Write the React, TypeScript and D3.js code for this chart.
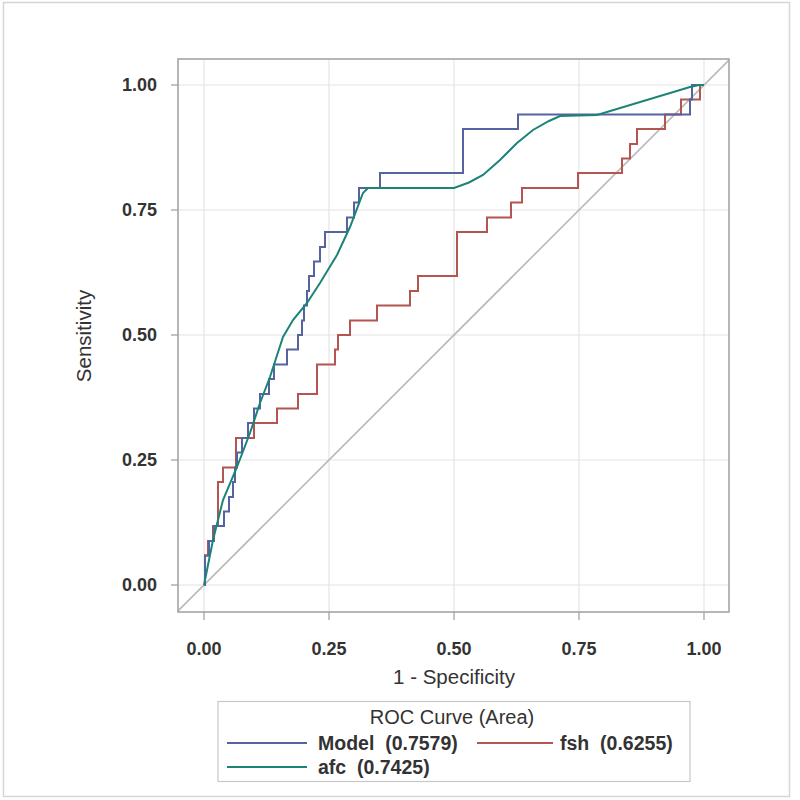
import React from "react";
import * as d3 from "d3";

// Model (logistic) ROC corners: x where the curve rises, new sensitivity
const modelFpr = [0, 0.002, 0.01, 0.02, 0.04, 0.05, 0.058, 0.062, 0.066, 0.076, 0.088, 0.1, 0.112, 0.13, 0.14, 0.166, 0.188, 0.196, 0.2, 0.206, 0.21, 0.22, 0.232, 0.242, 0.286, 0.3, 0.31, 0.352, 0.518, 0.628, 0.972, 0.976, 1];
const modelTpr = [0, 0.059, 0.088, 0.118, 0.147, 0.176, 0.206, 0.235, 0.265, 0.294, 0.324, 0.353, 0.382, 0.412, 0.441, 0.471, 0.5, 0.529, 0.559, 0.588, 0.618, 0.647, 0.676, 0.706, 0.735, 0.765, 0.794, 0.824, 0.912, 0.941, 0.971, 1, 1];

const fshFpr = [0, 0.002, 0.008, 0.018, 0.028, 0.038, 0.064, 0.1, 0.146, 0.188, 0.226, 0.262, 0.268, 0.292, 0.346, 0.412, 0.428, 0.506, 0.566, 0.614, 0.636, 0.748, 0.836, 0.852, 0.866, 0.922, 0.954, 0.992, 1];
const fshTpr = [0, 0.059, 0.088, 0.118, 0.206, 0.235, 0.294, 0.324, 0.353, 0.382, 0.441, 0.471, 0.5, 0.529, 0.559, 0.588, 0.618, 0.706, 0.735, 0.765, 0.794, 0.824, 0.853, 0.882, 0.912, 0.941, 0.971, 1, 1];

const afcFpr = [0, 0.018, 0.038, 0.066, 0.092, 0.112, 0.132, 0.158, 0.178, 0.206, 0.232, 0.266, 0.292, 0.318, 0.328, 0.5, 0.53, 0.558, 0.592, 0.626, 0.658, 0.69, 0.712, 0.786, 0.972, 0.99, 1];
const afcTpr = [0, 0.09, 0.17, 0.236, 0.304, 0.364, 0.416, 0.496, 0.53, 0.564, 0.604, 0.66, 0.716, 0.784, 0.794, 0.794, 0.805, 0.82, 0.85, 0.884, 0.91, 0.928, 0.938, 0.94, 0.996, 1, 1];

const ticks = [0, 0.25, 0.5, 0.75, 1];
const tickLabels = ["0.00", "0.25", "0.50", "0.75", "1.00"];

const legendTitle = "ROC Curve (Area)";
const seriesNames = ["Model", "fsh", "afc"];
const seriesAreas = ["0.7579", "0.6255", "0.7425"];
const seriesColors = ["#5663a1", "#b45552", "#1c8477"];

const FONT = "'Liberation Sans', Arial, sans-serif";

export default function App() {
  const left = 178, right = 729, top = 59, bottom = 612;
  const x = d3.scaleLinear().domain([-0.052, 1.05]).range([left, right]);
  const y = d3.scaleLinear().domain([-0.054, 1.052]).range([bottom, top]);

  const step = d3
    .line<[number, number]>()
    .x((d) => x(d[0]))
    .y((d) => y(d[1]))
    .curve(d3.curveStepAfter);
  const lin = d3
    .line<[number, number]>()
    .x((d) => x(d[0]))
    .y((d) => y(d[1]));

  const model = modelFpr.map((v, i) => [v, modelTpr[i]] as [number, number]);
  const fsh = fshFpr.map((v, i) => [v, fshTpr[i]] as [number, number]);
  const afc = afcFpr.map((v, i) => [v, afcTpr[i]] as [number, number]);

  const textColor = "#333";
  const lx = 227, lx2 = 307;

  return (
    <div style={{ position: "absolute", left: 0, top: 0 }}>
      <svg width={800} height={800} style={{ display: "block" }} fontFamily={FONT}>
        <rect x={0} y={0} width={800} height={800} fill="#fff" />
        <rect x={3.5} y={2.5} width={786} height={794} fill="none" stroke="#d6d6d6" strokeWidth={1.5} />
        <defs>
          <clipPath id="plotclip">
            <rect x={left} y={top} width={right - left} height={bottom - top} />
          </clipPath>
        </defs>
        {/* grid */}
        {ticks.map((t, i) => (
          <g key={"g" + i}>
            <line x1={x(t)} x2={x(t)} y1={top} y2={bottom} stroke="#e4e4e4" strokeWidth={1.2} />
            <line x1={left} x2={right} y1={y(t)} y2={y(t)} stroke="#e4e4e4" strokeWidth={1.2} />
          </g>
        ))}
        <g clipPath="url(#plotclip)">
          <line x1={x(-0.06)} y1={y(-0.06)} x2={x(1.06)} y2={y(1.06)} stroke="#b9b9b9" strokeWidth={1.6} />
          <path d={step(fsh) || ""} fill="none" stroke={seriesColors[1]} strokeWidth={2} />
          <path d={step(model) || ""} fill="none" stroke={seriesColors[0]} strokeWidth={2} />
          <path d={lin(afc) || ""} fill="none" stroke={seriesColors[2]} strokeWidth={2} />
        </g>
        <rect x={left} y={top} width={right - left} height={bottom - top} fill="none" stroke="#a4a4a4" strokeWidth={1.6} />
        {/* y axis */}
        {ticks.map((t, i) => (
          <g key={"y" + i}>
            <line x1={left - 7} x2={left} y1={y(t)} y2={y(t)} stroke="#a4a4a4" strokeWidth={1.3} />
            <text x={left - 21} y={y(t)} dy="0.36em" textAnchor="end" fontSize={18} fontWeight="bold" fill={textColor}>
              {tickLabels[i]}
            </text>
          </g>
        ))}
        {/* x axis */}
        {ticks.map((t, i) => (
          <g key={"x" + i}>
            <line x1={x(t)} x2={x(t)} y1={bottom} y2={bottom + 8} stroke="#a4a4a4" strokeWidth={1.3} />
            <text x={x(t)} y={655} textAnchor="middle" fontSize={18} fontWeight="bold" fill={textColor}>
              {tickLabels[i]}
            </text>
          </g>
        ))}
        <text x={454} y={684} textAnchor="middle" fontSize={20.5} fill={textColor}>
          1 - Specificity
        </text>
        <text transform={`translate(91,336) rotate(-90)`} textAnchor="middle" fontSize={20.5} fill={textColor}>
          Sensitivity
        </text>
        {/* legend */}
        <rect x={218} y={701.5} width={472} height={80} fill="#fff" stroke="#c8c8c8" strokeWidth={1.2} />
        <text x={452} y={724} textAnchor="middle" fontSize={20} fill={textColor}>
          {legendTitle}
        </text>
        <line x1={lx} x2={lx2} y1={743} y2={743} stroke={seriesColors[0]} strokeWidth={2} />
        <text x={318} y={750} fontSize={19.5} fontWeight="bold" fill={textColor} style={{ whiteSpace: "pre" }}>
          {`${seriesNames[0]}  (${seriesAreas[0]})`}
        </text>
        <line x1={477} x2={553} y1={743} y2={743} stroke={seriesColors[1]} strokeWidth={2} />
        <text x={560} y={750} fontSize={19.5} fontWeight="bold" fill={textColor} style={{ whiteSpace: "pre" }}>
          {`${seriesNames[1]}  (${seriesAreas[1]})`}
        </text>
        <line x1={lx} x2={lx2} y1={767} y2={767} stroke={seriesColors[2]} strokeWidth={2} />
        <text x={318} y={774} fontSize={19.5} fontWeight="bold" fill={textColor} style={{ whiteSpace: "pre" }}>
          {`${seriesNames[2]}  (${seriesAreas[2]})`}
        </text>
      </svg>
    </div>
  );
}
